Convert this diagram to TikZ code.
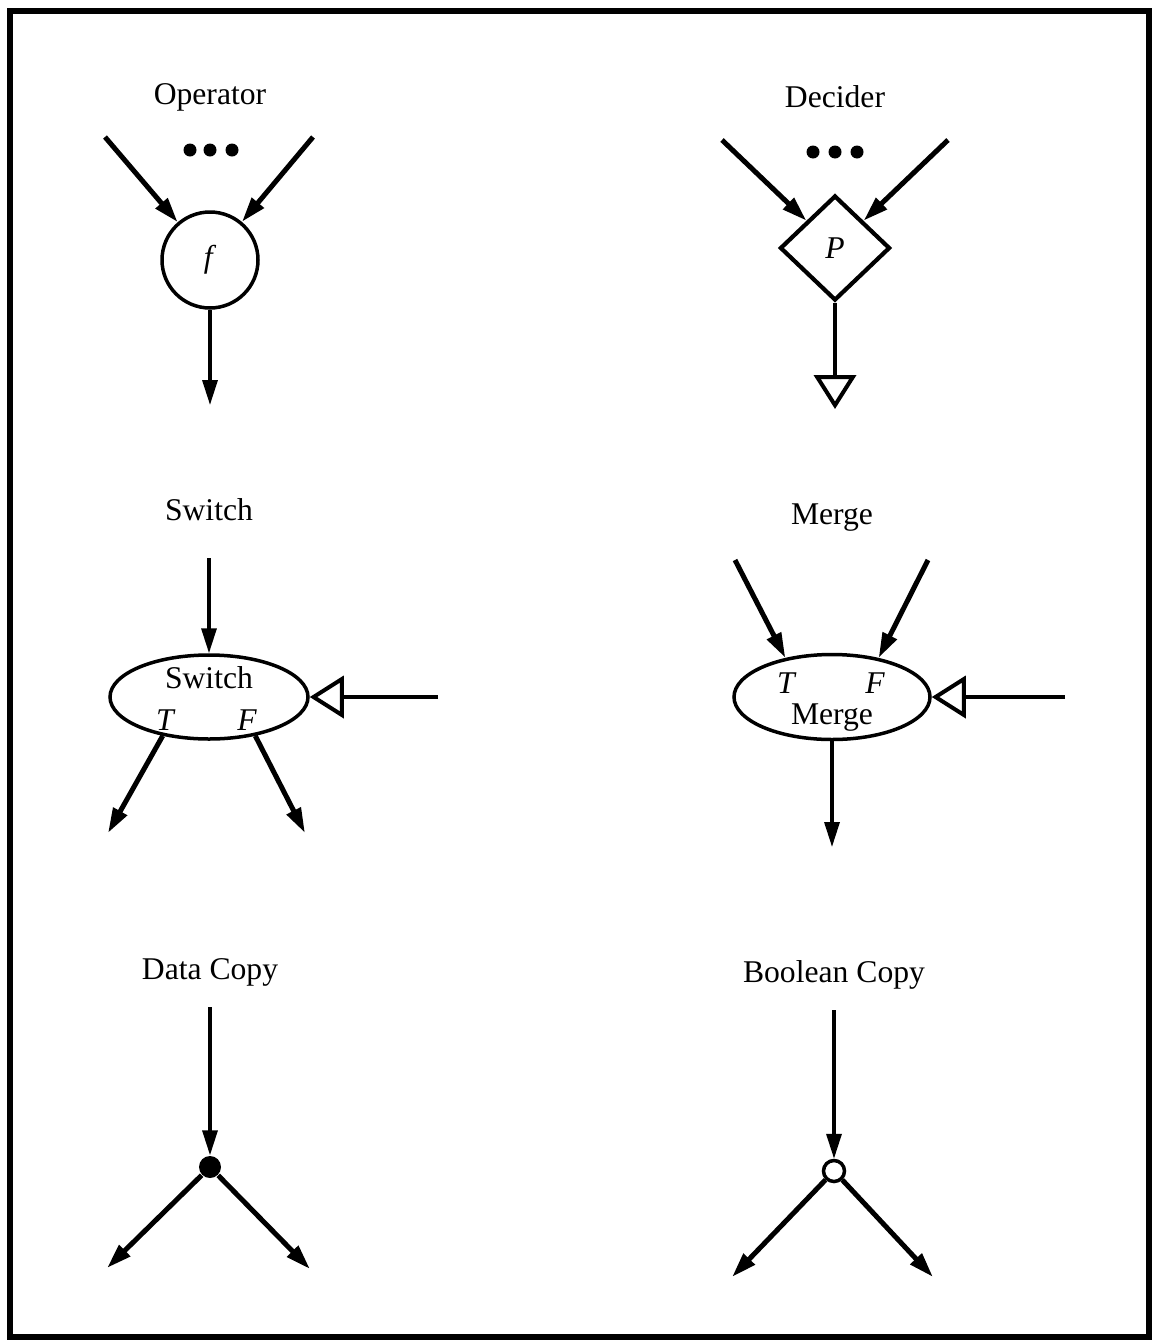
\documentclass[tikz,border=0pt]{standalone}
\usepackage{fontspec}
\setmainfont{Liberation Serif}
\usetikzlibrary{arrows.meta,shapes.geometric}

\begin{document}
\begin{tikzpicture}[
  title/.style={font=\small},
  flow/.style={-{Triangle[length=2.5mm,width=1.5mm]}, line width=0.33mm},
  heavy/.style={flow, line width=0.5mm},
  ctrl/.style={-{Triangle[open,length=3.4mm,width=4.2mm]}, line width=0.4mm},
  dot/.style={circle, fill, inner sep=0pt, minimum size=1.3mm},
  actor/.style={draw, line width=0.35mm, inner sep=0pt, font=\small},
]
\useasboundingbox (0,0) rectangle (11.55,-13.42);
\draw[line width=0.6mm] (0.10,-0.11) rectangle (11.49,-13.37);

% ── Operator ────────────────────────────────────────────────────────────
\begin{scope}[shift={(2.10,-2.60)}]
  \node[title] (t1) at (0,1.63) {Operator};
  \node[actor, circle, minimum size=9.6mm] (opr) at (0,0) {\textit{f}};
  \node[dot] (d1a) at (-0.20,1.10) {};
  \node[dot] (d1b) at (0,1.10) {};
  \node[dot] (d1c) at (0.22,1.10) {};
  \coordinate (opr-in1) at (-1.05,1.23);
  \coordinate (opr-in2) at (1.03,1.23);
  \coordinate (opr-out) at (0,-1.45);
  \draw[heavy] (opr-in1) -- (opr);
  \draw[heavy] (opr-in2) -- (opr);
  \draw[flow] (opr) -- (opr-out);
\end{scope}

% ── Decider ─────────────────────────────────────────────────────────────
\begin{scope}[shift={(8.35,-2.48)}]
  \node[title] (t2) at (0,1.51) {Decider};
  \node[actor, diamond, line width=0.42mm, minimum width=11mm,
        minimum height=10.5mm] (dec) at (0,0) {\textit{P}};
  \node[dot] (d2a) at (-0.22,0.96) {};
  \node[dot] (d2b) at (0,0.96) {};
  \node[dot] (d2c) at (0.22,0.96) {};
  \coordinate (dec-in1) at (-1.13,1.08);
  \coordinate (dec-in2) at (1.13,1.08);
  \coordinate (dec-out) at (0,-1.61);
  \draw[heavy] (dec-in1) -- (dec);
  \draw[heavy] (dec-in2) -- (dec);
  \draw[ctrl] (dec) -- (dec-out);
\end{scope}

% ── Switch ──────────────────────────────────────────────────────────────
\begin{scope}[shift={(2.09,-6.97)}]
  \node[title] (t3) at (0,1.87) {Switch};
  \node[actor, ellipse, minimum width=19.8mm, minimum height=8.4mm] (sw) at (0,0) {};
  \node[font=\small] (sw-name) at (0,0.19) {Switch};
  \node[font=\small\itshape] (sw-t) at (-0.44,-0.23) {T};
  \node[font=\small\itshape] (sw-f) at (0.38,-0.23) {F};
  \coordinate (sw-in) at (0,1.39);
  \coordinate (sw-ctl) at (2.29,0);
  \coordinate (sw-out1) at (-1.01,-1.36);
  \coordinate (sw-out2) at (0.96,-1.36);
  \draw[flow] (sw-in) -- (sw.north);
  \draw[ctrl] (sw-ctl) -- (sw.east);
  \draw[heavy] (sw.220) -- (sw-out1);
  \draw[heavy] (sw.320) -- (sw-out2);
\end{scope}

% ── Merge ───────────────────────────────────────────────────────────────
\begin{scope}[shift={(8.32,-6.97)}]
  \node[title] (t4) at (0,1.79) {Merge};
  \node[actor, ellipse, minimum width=19.6mm, minimum height=8.5mm] (mg) at (0,0) {};
  \node[font=\small\itshape] (mg-t) at (-0.46,0.14) {T};
  \node[font=\small\itshape] (mg-f) at (0.43,0.14) {F};
  \node[font=\small] (mg-name) at (0,-0.21) {Merge};
  \coordinate (mg-in1) at (-0.97,1.37);
  \coordinate (mg-in2) at (0.96,1.37);
  \coordinate (mg-ctl) at (2.33,0);
  \coordinate (mg-out) at (0,-1.50);
  \draw[heavy] (mg-in1) -- (mg.140);
  \draw[heavy] (mg-in2) -- (mg.40);
  \draw[ctrl] (mg-ctl) -- (mg.east);
  \draw[flow] (mg.south) -- (mg-out);
\end{scope}

% ── Data Copy ───────────────────────────────────────────────────────────
\begin{scope}[shift={(2.10,-11.67)}]
  \node[title] (t5) at (0,1.95) {Data Copy};
  \node[circle, fill, inner sep=0pt, minimum size=2.2mm] (dc) at (0,0) {};
  \coordinate (dc-in) at (0,1.60);
  \coordinate (dc-out1) at (-1.03,-1.01);
  \coordinate (dc-out2) at (1.00,-1.02);
  \draw[flow] (dc-in) -- (dc);
  \draw[heavy] (dc) -- (dc-out1);
  \draw[heavy] (dc) -- (dc-out2);
\end{scope}

% ── Boolean Copy ────────────────────────────────────────────────────────
\begin{scope}[shift={(8.34,-11.71)}]
  \node[title] (t6) at (0,1.96) {Boolean Copy};
  \node[circle, draw, line width=0.35mm, inner sep=0pt, minimum size=2.1mm] (bc) at (0,0) {};
  \coordinate (bc-in) at (0,1.61);
  \coordinate (bc-out1) at (-1.02,-1.06);
  \coordinate (bc-out2) at (0.99,-1.06);
  \draw[flow] (bc-in) -- (bc);
  \draw[heavy] (bc) -- (bc-out1);
  \draw[heavy] (bc) -- (bc-out2);
\end{scope}

\end{tikzpicture}
\end{document}
